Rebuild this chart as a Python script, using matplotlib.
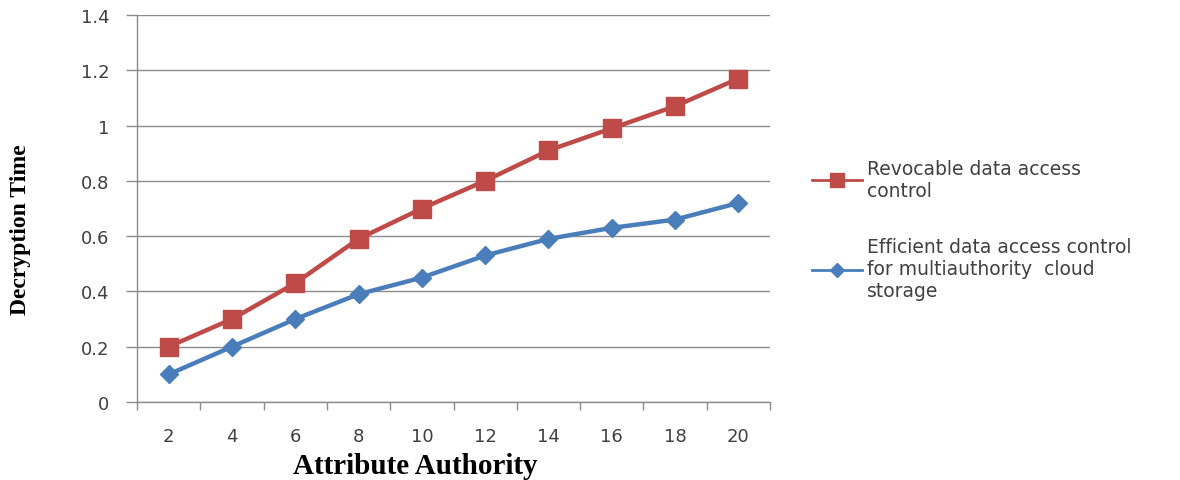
import matplotlib
matplotlib.use("Agg")
import matplotlib.pyplot as plt
import numpy as np

# Data
authorities = ["2", "4", "6", "8", "10", "12", "14", "16", "18", "20"]
revocable = [0.20, 0.30, 0.43, 0.59, 0.70, 0.80, 0.91, 0.99, 1.07, 1.17]
efficient = [0.10, 0.20, 0.30, 0.39, 0.45, 0.53, 0.59, 0.63, 0.66, 0.72]
yticks = [0, 0.2, 0.4, 0.6, 0.8, 1, 1.2, 1.4]
ytick_labels = ["0", "0.2", "0.4", "0.6", "0.8", "1", "1.2", "1.4"]

label_red = "Revocable data access\ncontrol"
label_blue = "Efficient data access control\nfor multiauthority  cloud\nstorage"

RED = "#BE4B48"
BLUE = "#4A7EBB"
GRID = "#8C8C8C"
TEXT = "#404040"

fig = plt.figure(figsize=(11.8, 4.81), dpi=100)
ax = fig.add_axes([137 / 1180, 78 / 481, 633 / 1180, 387 / 481])

x = np.arange(len(authorities))
ax.plot(x, revocable, color=RED, lw=3.2, marker="s", ms=13, label=label_red)
ax.plot(x, efficient, color=BLUE, lw=3.2, marker="D", ms=9.5, label=label_blue)

ax.set_xlim(-0.5, len(authorities) - 0.5)
ax.set_ylim(0, 1.4)

ax.set_yticks(yticks)
ax.set_yticklabels(ytick_labels, fontsize=13, color=TEXT, family="DejaVu Sans")
ax.yaxis.grid(True, color=GRID, lw=1.0)
ax.set_axisbelow(True)

ax.set_xticks(x)
ax.set_xticklabels(authorities, fontsize=13, color=TEXT, family="DejaVu Sans")
ax.set_xticks(np.arange(-0.5, len(authorities)), minor=True)
ax.tick_params(axis="x", which="major", length=0, pad=18)
ax.tick_params(axis="x", which="minor", length=6, color=GRID, width=1.0)
ax.tick_params(axis="y", length=8, color=GRID, width=1.0, pad=12)

for s in ["top", "right"]:
    ax.spines[s].set_visible(False)
for s in ["left", "bottom"]:
    ax.spines[s].set_color(GRID)
    ax.spines[s].set_linewidth(1.0)

fig.text(415 / 1180, 1 - 467 / 481, "Attribute Authority", fontsize=21,
         fontweight="bold", family="Liberation Serif", ha="center", va="center")
fig.text(21 / 1180, 1 - 230 / 481, "Decryption Time", rotation=90,
         fontsize=17, fontweight="bold", family="Liberation Serif",
         ha="center", va="center")

leg = ax.legend(loc="upper left", bbox_to_anchor=(812 / 1180, 1 - 160 / 481),
                bbox_transform=fig.transFigure, frameon=False,
                prop={"family": "DejaVu Sans", "size": 13.5},
                labelspacing=1.98, handlelength=2.65, handletextpad=0.3,
                labelcolor=TEXT, borderaxespad=0, borderpad=0)
for h in leg.legend_handles:
    h.set_linewidth(2)
    h.set_markersize(h.get_markersize() * 0.75)

fig.savefig("out.png", dpi=100)
